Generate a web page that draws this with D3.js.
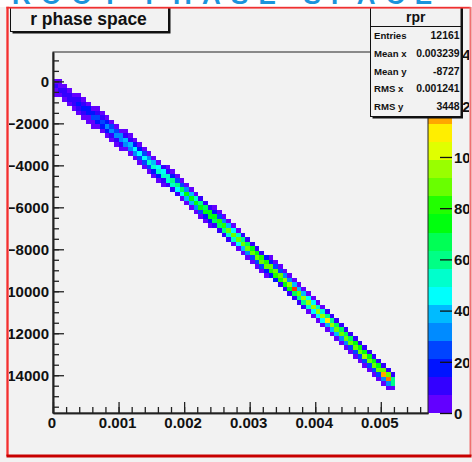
<!DOCTYPE html>
<html>
<head>
<meta charset="utf-8">
<script src="https://cdn.jsdelivr.net/npm/d3@7/dist/d3.min.js"></script>
<style>
  html, body { margin: 0; padding: 0; background: #ffffff; }
  svg { display: block; font-family: "Liberation Sans", Arial, Helvetica, sans-serif; font-weight: bold; }
</style>
</head>
<body>
<svg id="canvas" width="472" height="462"></svg>
<script>
// ---- histogram definition (TH2 "rpr", drawn with COLZ) ----
const xRange = [0, 0.00572];
const yRange = [-15800, 1400];
const zRange = [0, 141];
const nBinsX = 80;
const nBinsY = 80;
const nContours = 20;

const xTickValues = [0, 0.001, 0.002, 0.003, 0.004, 0.005];
const xTickLabels = ["0", "0.001", "0.002", "0.003", "0.004", "0.005"];
const yTickValues = [0, -2000, -4000, -6000, -8000, -10000, -12000, -14000];
const yTickLabels = ["0", "−2000", "−4000", "−6000", "−8000", "−10000", "−12000", "−14000"];
const zTickValues = [0, 20, 40, 60, 80, 100, 120, 140];
const zTickLabels = ["0", "20", "40", "60", "80", "100", "120", "140"];

// filled bins, one entry per x bin (from x = 0): index of the first filled
// y bin counted from the top of the axis, then the counts going downwards
const colFirstBin = [
  5, 6, 7, 8, 8, 9, 10, 11, 12, 12,
  13, 14, 15, 16, 17, 17, 18, 19, 20, 21,
  22, 23, 24, 25, 25, 26, 27, 28, 29, 30,
  31, 32, 33, 34, 34, 35, 36, 37, 38, 39,
  40, 41, 42, 43, 44, 45, 45, 46, 47, 48,
  49, 50, 51, 52, 53, 54, 55, 56, 57, 58,
  59, 60, 61, 62, 63, 64, 65, 66, 67, 68,
  69, 70, 71
];
const colCounts = [
  [0, 4, 8, 5, 1], [1, 6, 10, 5, 0], [1, 9, 11, 4, 0], [2, 11, 12, 2, 0], [0, 5, 14, 11, 2],
  [1, 8, 17, 10, 1], [1, 12, 19, 8, 1], [2, 17, 21, 6, 1], [4, 21, 22, 5, 1], [1, 7, 24, 21, 3],
  [1, 11, 27, 19, 2], [2, 15, 30, 16, 1], [3, 22, 32, 13, 1], [5, 27, 33, 9, 1], [6, 33, 34, 7, 1],
  [1, 9, 36, 33, 6], [1, 12, 39, 32, 5], [1, 16, 43, 31, 4], [2, 21, 46, 28, 3], [2, 25, 48, 24, 2],
  [4, 31, 50, 22, 2], [5, 37, 51, 19, 2], [6, 43, 53, 16, 2], [9, 48, 52, 13, 1], [1, 12, 54, 53, 10],
  [2, 16, 58, 50, 9], [2, 22, 63, 48, 7], [3, 28, 68, 45, 6], [3, 35, 72, 40, 4], [4, 42, 74, 36, 3],
  [6, 51, 74, 30, 3], [8, 58, 74, 25, 2], [11, 64, 74, 21, 2], [14, 71, 73, 16, 2], [2, 19, 76, 70, 13],
  [3, 25, 81, 66, 9], [3, 31, 84, 62, 9], [4, 38, 87, 55, 7], [4, 44, 90, 50, 5], [5, 51, 91, 44, 4],
  [7, 59, 90, 39, 4], [9, 67, 89, 33, 3], [10, 72, 88, 27, 3], [13, 76, 87, 25, 2], [14, 80, 86, 22, 2],
  [16, 83, 86, 19, 2], [2, 18, 86, 84, 16], [2, 22, 88, 81, 16], [2, 25, 90, 79, 14], [3, 29, 93, 76, 11],
  [3, 32, 94, 73, 10], [3, 36, 132, 70, 9], [3, 37, 90, 62, 8], [4, 41, 93, 57, 7], [4, 46, 95, 54, 6],
  [5, 47, 93, 49, 5], [6, 52, 94, 46, 5], [6, 56, 95, 44, 4], [7, 60, 112, 42, 4], [8, 63, 93, 39, 4],
  [8, 64, 91, 36, 3], [9, 67, 91, 34, 3], [9, 69, 88, 30, 3], [10, 70, 86, 28, 3], [10, 71, 86, 27, 3],
  [10, 72, 88, 27, 3], [11, 75, 97, 28, 3], [10, 72, 89, 27, 2], [10, 71, 86, 27, 3], [10, 73, 89, 28, 3],
  [12, 85, 118, 32, 3], [13, 87, 126, 35, 3], [10, 58, 60, 6]
];

const histTitle = "r phase space";
const statsName = "rpr";
const statsLabels = ["Entries", "Mean x", "Mean y", "RMS x", "RMS y"];
const statsValues = ["12161", "0.003239", "-8727", "0.001241", "3448"];
const bannerText = "ROOT PHASE SPACE";

// ---- layout ----
const W = 472, H = 462;
const frame = { left: 53, right: 428, top: 52, bottom: 413 };
const bar = { left: 428, right: 452 };
const font = 15;

const svg = d3.select("#canvas");

const x = d3.scaleLinear().domain(xRange).range([frame.left, frame.right]);
const y = d3.scaleLinear().domain(yRange).range([frame.bottom, frame.top]);
const z = d3.scaleLinear().domain(zRange).range([frame.bottom, frame.top]);

// rainbow palette: 50 colours from violet (hue 280) down to red (hue 0)
const nColors = 50;
const palette = d3.range(nColors).map(i => d3.hsl(280 - (i + 1) * 280 / nColors, 1, 0.5).formatHex());
const dz = (zRange[1] - zRange[0]) / nContours;
function levelColor(level) {
  return palette[Math.min(nColors - 1, Math.floor((level + 0.99) * nColors / nContours))];
}
function countColor(c) {
  const level = Math.min(nContours - 1, Math.floor(0.01 + (c - zRange[0]) / dz));
  return levelColor(level);
}

// ---- pad background ----
svg.append("rect").attr("x", 0).attr("y", 0).attr("width", W).attr("height", H).attr("fill", "#ffffff");
svg.append("rect").attr("x", 0).attr("y", 7).attr("width", W).attr("height", H - 7).attr("fill", "#f2f2f2");

svg.append("clipPath").attr("id", "padClip")
  .append("rect").attr("x", 8).attr("y", 8).attr("width", 461).attr("height", 447);
const pad = svg.append("g").attr("clip-path", "url(#padClip)");

// ---- cells ----
const bw = (xRange[1] - xRange[0]) / nBinsX;
const bh = (yRange[1] - yRange[0]) / nBinsY;
const cells = [];
colCounts.forEach((counts, i) => {
  counts.forEach((c, k) => {
    if (c > 0) cells.push({ i: i, j: colFirstBin[i] + k, c: c });
  });
});
pad.append("g").attr("shape-rendering", "crispEdges")
  .selectAll("rect").data(cells).join("rect")
  .attr("x", d => x(xRange[0] + d.i * bw))
  .attr("width", d => x(xRange[0] + (d.i + 1) * bw) - x(xRange[0] + d.i * bw))
  .attr("y", d => y(yRange[1] - d.j * bh))
  .attr("height", d => y(yRange[1] - (d.j + 1) * bh) - y(yRange[1] - d.j * bh))
  .attr("fill", d => countColor(d.c));

// ---- colour bar ----
pad.append("g").attr("shape-rendering", "crispEdges")
  .selectAll("rect").data(d3.range(nContours)).join("rect")
  .attr("x", bar.left).attr("width", bar.right - bar.left)
  .attr("y", l => z(zRange[0] + (l + 1) * dz))
  .attr("height", l => z(zRange[0] + l * dz) - z(zRange[0] + (l + 1) * dz))
  .attr("fill", l => levelColor(l));

const zAxis = d3.axisRight(z).tickValues(zTickValues)
  .tickFormat((d, i) => zTickLabels[i]).tickSizeInner(-12).tickSizeOuter(0).tickPadding(2);
const zg = pad.append("g").attr("transform", `translate(${bar.right},0)`).call(zAxis);
zg.select(".domain").remove();
zg.selectAll("line").attr("stroke", "#111").attr("stroke-width", 1.3);
zg.selectAll("text").attr("font-size", font).attr("font-family", null).attr("fill", "#111").attr("dy", "0.36em");

// ---- frame and axes ----
pad.append("rect").attr("x", frame.left).attr("y", frame.top)
  .attr("width", frame.right - frame.left).attr("height", frame.bottom - frame.top)
  .attr("fill", "none").attr("stroke", "#222").attr("stroke-width", 1);

const xMinor = d3.range(0, 29).map(k => k * 0.0002).filter(v => v <= xRange[1]);
const yMinor = d3.range(-31, 3).map(k => k * 500).filter(v => v >= yRange[0] && v <= yRange[1]);

const xAxisMinor = d3.axisBottom(x).tickValues(xMinor).tickFormat("").tickSizeInner(-6).tickSizeOuter(0);
const xAxis = d3.axisBottom(x).tickValues(xTickValues)
  .tickFormat((d, i) => xTickLabels[i]).tickSizeInner(-11).tickSizeOuter(0).tickPadding(4);
const yAxisMinor = d3.axisLeft(y).tickValues(yMinor).tickFormat("").tickSizeInner(-6).tickSizeOuter(0);
const yAxis = d3.axisLeft(y).tickValues(yTickValues)
  .tickFormat((d, i) => yTickLabels[i]).tickSizeInner(-11).tickSizeOuter(0).tickPadding(4);

function styleAxis(g) {
  g.select(".domain").attr("stroke", "#222").attr("stroke-width", 1.6);
  g.selectAll("line").attr("stroke", "#222").attr("stroke-width", 1.3);
  g.selectAll("text").attr("font-size", font).attr("font-family", null).attr("fill", "#111");
}
pad.append("g").attr("transform", `translate(0,${frame.bottom})`).call(xAxisMinor).call(styleAxis);
const xg = pad.append("g").attr("transform", `translate(0,${frame.bottom})`).call(xAxis).call(styleAxis);
xg.selectAll("text").attr("dx", -1.5);
pad.append("g").attr("transform", `translate(${frame.left},0)`).call(yAxisMinor).call(styleAxis);
const yg = pad.append("g").attr("transform", `translate(${frame.left},0)`).call(yAxis).call(styleAxis);
yg.selectAll("text").attr("dy", "0.36em");

// ---- title box ----
const tb = { x: 10.5, y: 4, w: 158, h: 27.5 };
pad.append("rect").attr("x", tb.x + 2).attr("y", tb.y + 2).attr("width", tb.w).attr("height", tb.h).attr("fill", "#111");
pad.append("rect").attr("x", tb.x).attr("y", tb.y).attr("width", tb.w).attr("height", tb.h)
  .attr("fill", "#f2f2f2").attr("stroke", "#111").attr("stroke-width", 1);
pad.append("text").attr("x", tb.x + tb.w / 2 - 1).attr("y", 25).attr("text-anchor", "middle")
  .attr("font-size", 17.5).attr("fill", "#111").text(histTitle);

// ---- statistics box ----
const sb = { x: 370.5, y: 4, w: 90.5, h: 112.5 };
pad.append("rect").attr("x", sb.x + 2).attr("y", sb.y + 2).attr("width", sb.w).attr("height", sb.h).attr("fill", "#111");
pad.append("rect").attr("x", sb.x).attr("y", sb.y).attr("width", sb.w).attr("height", sb.h)
  .attr("fill", "#f2f2f2").attr("stroke", "#111").attr("stroke-width", 1);
pad.append("line").attr("x1", sb.x).attr("x2", sb.x + sb.w).attr("y1", 26.5).attr("y2", 26.5)
  .attr("stroke", "#111").attr("stroke-width", 1);
pad.append("text").attr("x", sb.x + sb.w / 2).attr("y", 21.5).attr("text-anchor", "middle")
  .attr("font-size", 14).attr("fill", "#111").text(statsName);
const rowY = d3.scaleLinear().domain([0, statsLabels.length - 1]).range([38.8, 110.2]);
pad.append("g").selectAll("text").data(statsLabels).join("text")
  .attr("x", sb.x + 3.5).attr("y", (d, i) => rowY(i)).attr("font-size", 9.6).attr("fill", "#111").text(d => d);
pad.append("g").selectAll("text").data(statsValues).join("text")
  .attr("x", sb.x + sb.w - 1.5).attr("y", (d, i) => rowY(i)).attr("text-anchor", "end")
  .attr("font-size", 10.4).attr("fill", "#111").text(d => d);

// ---- pad border (highlighted) ----
svg.append("rect").attr("x", 6).attr("y", 6.5).attr("width", 3).attr("height", 450).attr("fill", "#ffb0b0");
svg.append("rect").attr("x", 6.5).attr("y", 7).attr("width", 2).attr("height", 449).attr("fill", "#f03030");
svg.append("rect").attr("x", 6.5).attr("y", 6.8).attr("width", 464).attr("height", 1.8).attr("fill", "#f03030");
svg.append("rect").attr("x", 469.5).attr("y", 7).attr("width", 2).attr("height", 449).attr("fill", "#f07070");
svg.append("rect").attr("x", 6.5).attr("y", 454.5).attr("width", 465).attr("height", 3).attr("fill", "#c80000");

// ---- heading strip above the pad ----
svg.append("clipPath").attr("id", "bannerClip")
  .append("rect").attr("x", 0).attr("y", 0).attr("width", W).attr("height", 6.5);
const banner = svg.append("g").attr("clip-path", "url(#bannerClip)");
banner.append("text").attr("x", 12).attr("y", 3.6).attr("font-size", 26).attr("font-weight", 900)
  .attr("fill", "#1a94dc").attr("textLength", 420).attr("lengthAdjust", "spacing").text(bannerText);
</script>
</body>
</html>
